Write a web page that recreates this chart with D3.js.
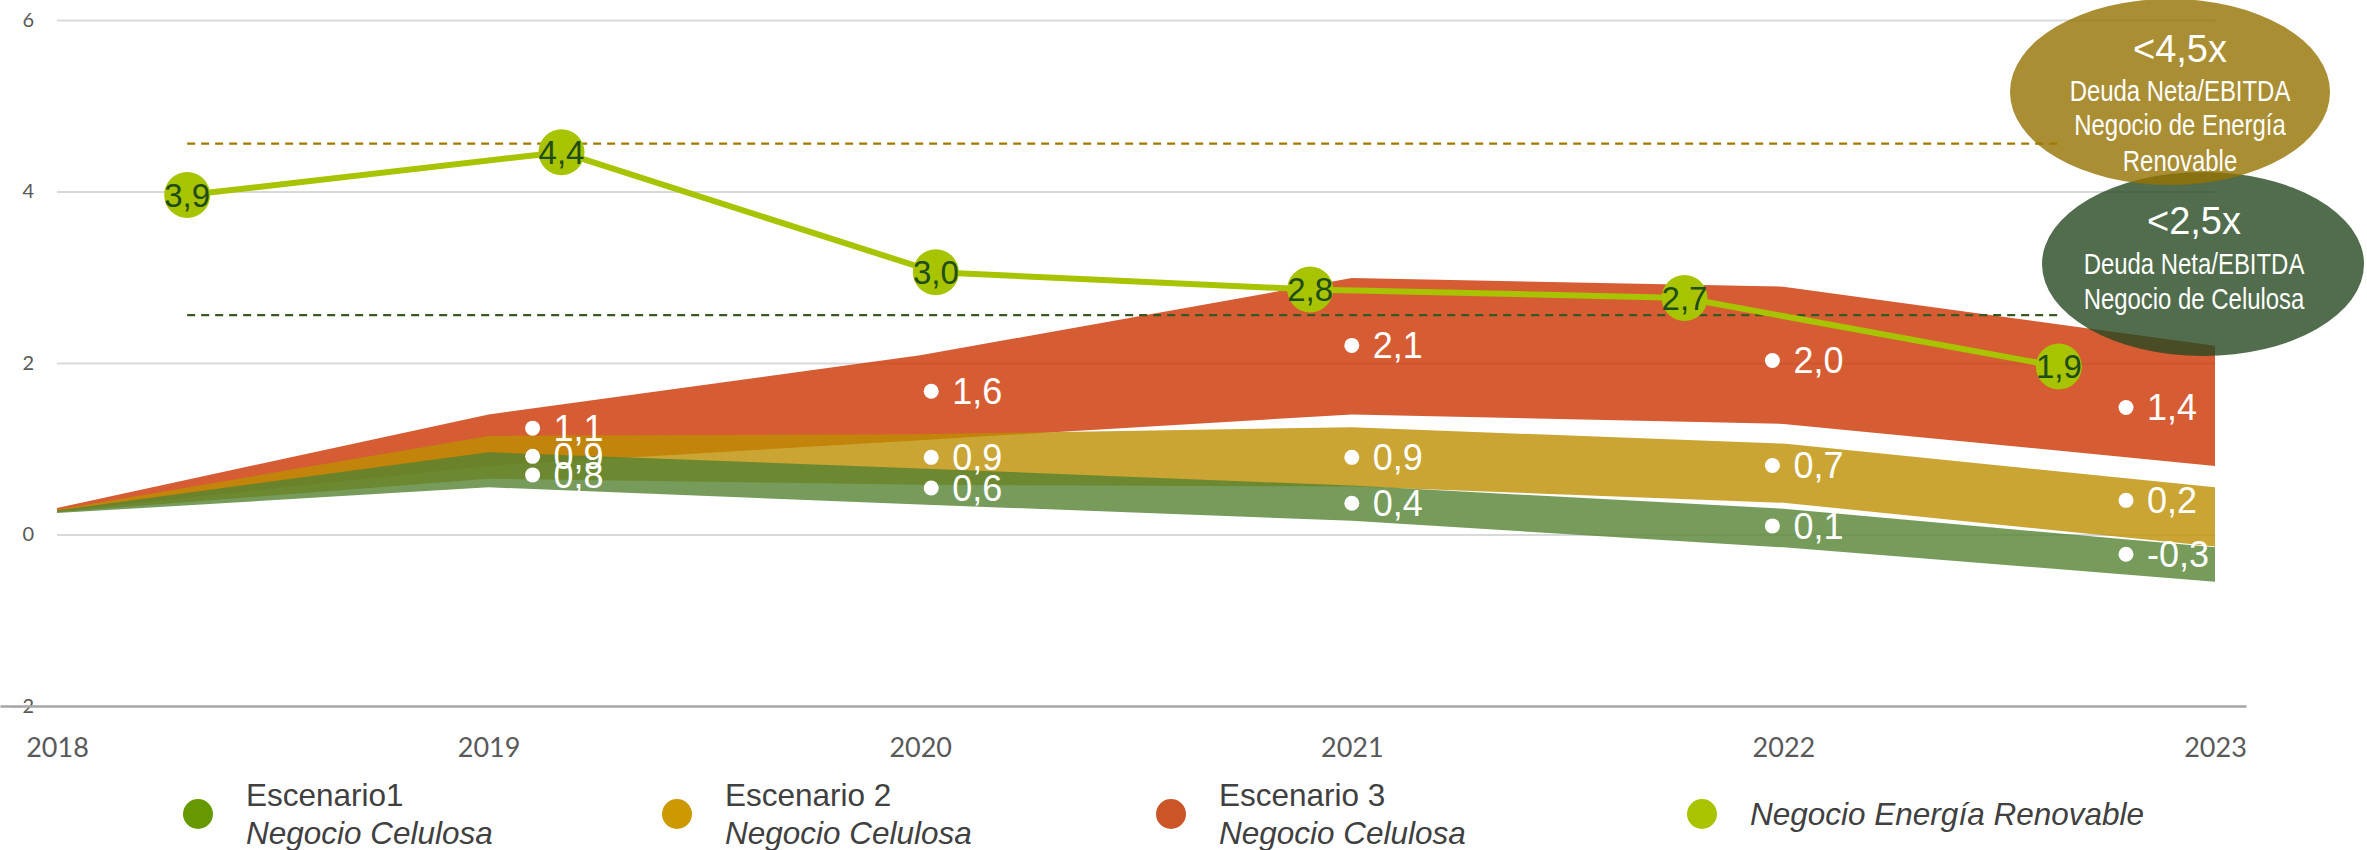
<!DOCTYPE html>
<html><head><meta charset="utf-8">
<script src="https://cdn.jsdelivr.net/npm/d3@7"></script>
<style>
html,body{margin:0;padding:0;background:#fff;}
svg{display:block;}
</style></head>
<body>
<svg id="chart" width="2367" height="850"></svg>
<script>
// ---------------- data ----------------
const years = [2018, 2019, 2020, 2021, 2022, 2023];
const yTicks = [-2, 0, 2, 4, 6];

// scenario bands (lower / upper bound), Negocio Celulosa
const esc1Low  = [0.25, 0.55, 0.35, 0.16, -0.15, -0.55];
const esc1High = [0.28, 0.96, 0.77, 0.57, 0.30, -0.15];
const esc2Low  = [0.26, 0.65, 0.58, 0.56, 0.37, -0.14];
const esc2High = [0.29, 1.15, 1.17, 1.25, 1.06, 0.55];
const esc3Low  = [0.27, 0.80, 1.10, 1.40, 1.29, 0.80];
const esc3High = [0.31, 1.40, 2.09, 2.99, 2.89, 2.20];

// printed scenario values
const labelYears = [2019, 2020, 2021, 2022, 2023];
const esc1Labels = [0.8, 0.6, 0.4, 0.1, -0.3];
const esc2Labels = [0.9, 0.9, 0.9, 0.7, 0.2];
const esc3Labels = [1.1, 1.6, 2.1, 2.0, 1.4];

// Negocio Energía Renovable
const renovCategories = ["2018", "2019", "2020", "2021", "2022", "2023"];
const renovValues = [3.9, 4.4, 3.0, 2.8, 2.7, 1.9];
const thresholds = [4.5, 2.5];

const goldBubble = ["<4,5x", "Deuda Neta/EBITDA", "Negocio de Energía", "Renovable"];
const greenBubble = ["<2,5x", "Deuda Neta/EBITDA", "Negocio de Celulosa"];

const legendTitles = ["Escenario1", "Escenario 2", "Escenario 3", ""];
const legendSubs = ["Negocio Celulosa", "Negocio Celulosa", "Negocio Celulosa", "Negocio Energía Renovable"];

// ---------------- layout / style ----------------
const svg = d3.select("#chart");
const W = 2367, H = 850;
svg.append("rect").attr("width", W).attr("height", H).attr("fill", "#fff");

const x = d3.scaleLinear().domain([2018, 2023]).range([57, 2215]);
const y = d3.scaleLinear().domain([-2, 6]).range([706, 20]);
const xLine = d3.scalePoint().domain(renovCategories).range([0, 2246]).padding(0.5);
const yLine = d3.scaleLinear().domain([-2, 6]).range([701, 15]);

const fmt = v => v.toFixed(1).replace(".", ",");

// gridlines + y labels
const gy = svg.append("g").attr("transform", "translate(57,0)")
  .call(d3.axisLeft(y).tickValues(yTicks).tickSize(-(2215 - 57)).tickPadding(23).tickFormat(d3.format("d")));
gy.select(".domain").remove();
gy.selectAll(".tick line").attr("stroke", "#D9D9D9").attr("stroke-width", 2)
  .filter(d => d === -2).attr("stroke", "none");
gy.selectAll(".tick text").attr("fill", "#595959").attr("font-family", "Lato, 'Open Sans', sans-serif")
  .attr("font-size", 20);

// category axis line (line chart)
const gxl = svg.append("g").attr("transform", "translate(0,706)")
  .call(d3.axisBottom(xLine).tickSize(0).tickSizeOuter(0).tickFormat(""));
gxl.select(".domain").attr("stroke", "#A6A6A6").attr("stroke-width", 2.5);

// year labels
const gx = svg.append("g").attr("transform", "translate(0,706)")
  .call(d3.axisBottom(x).tickValues(years).tickSize(0).tickPadding(32).tickFormat(d3.format("d")));
gx.select(".domain").remove();
gx.selectAll(".tick text").attr("fill", "#595959").attr("font-family", "Lato, 'Open Sans', sans-serif")
  .attr("font-size", 27);

// bands
const bands = [
  {low: esc3Low, high: esc3High, fill: "rgb(204,51,0)"},
  {low: esc2Low, high: esc2High, fill: "rgb(189,143,0)"},
  {low: esc1Low, high: esc1High, fill: "rgb(84,130,50)"}
];
const area = d3.area()
  .x(d => x(d.year)).y0(d => y(d.lo)).y1(d => y(d.hi));
bands.forEach(b => {
  const pts = years.map((yr, i) => ({year: yr, lo: b.low[i], hi: b.high[i]}));
  svg.append("path").datum(pts).attr("d", area).attr("fill", b.fill).attr("fill-opacity", 0.8);
});

// bubbles
svg.append("ellipse").attr("cx", 2203).attr("cy", 264).attr("rx", 161).attr("ry", 92)
  .attr("fill", "rgb(38,72,32)").attr("fill-opacity", 0.8);
svg.append("ellipse").attr("cx", 2170).attr("cy", 92).attr("rx", 160).attr("ry", 93)
  .attr("fill", "rgb(149,114,1)").attr("fill-opacity", 0.8);

// threshold dashed lines
const dashColors = ["#A07A00", "#385723"];
svg.selectAll("line.thr").data(thresholds).join("line").attr("class", "thr")
  .attr("x1", xLine(renovCategories[0])).attr("x2", xLine(renovCategories[renovCategories.length - 1]))
  .attr("y1", d => yLine(d)).attr("y2", d => yLine(d))
  .attr("stroke", (d, i) => dashColors[i]).attr("stroke-width", 2.2).attr("stroke-dasharray", "8,6");

// scenario value labels
const labelDx = [44, 11, 0, -11, -89];
const labelSets = [
  {vals: esc3Labels, dy: [-12, -6, -9, -2.5, -7]},
  {vals: esc2Labels, dy: [-1, 0, 0, -9, -17]},
  {vals: esc1Labels, dy: [9, 5, 3, 0, -6]}
];
labelSets.forEach(s => {
  const g = svg.append("g");
  const items = labelYears.map((yr, i) => ({cx: x(yr) + labelDx[i], cy: y(s.vals[i]) + s.dy[i], v: s.vals[i]}));
  g.selectAll("circle").data(items).join("circle")
    .attr("cx", d => d.cx).attr("cy", d => d.cy).attr("r", 7.5).attr("fill", "#fff");
  g.selectAll("text").data(items).join("text")
    .attr("x", d => d.cx + 21).attr("y", d => d.cy).attr("dy", "0.36em")
    .attr("fill", "#fff").attr("font-family", "'Liberation Sans', Arial, sans-serif").attr("font-size", 36)
    .text(d => fmt(d.v));
});

// renewable line
const renov = renovCategories.map((c, i) => ({c, v: renovValues[i]}));
svg.append("path").datum(renov)
  .attr("d", d3.line().x(d => xLine(d.c)).y(d => yLine(d.v)))
  .attr("fill", "none").attr("stroke", "#A8C300").attr("stroke-width", 6).attr("stroke-linejoin", "round");
svg.selectAll("circle.mk").data(renov).join("circle").attr("class", "mk")
  .attr("cx", d => xLine(d.c)).attr("cy", d => yLine(d.v)).attr("r", 23).attr("fill", "#A8C300");
svg.selectAll("text.mk").data(renov).join("text").attr("class", "mk")
  .attr("x", d => xLine(d.c)).attr("y", d => yLine(d.v)).attr("dy", "0.36em")
  .attr("text-anchor", "middle").attr("fill", "#1E4D1A")
  .attr("font-family", "'Liberation Sans', Arial, sans-serif").attr("font-size", 33)
  .text(d => fmt(d.v));

// bubble texts
function bubbleText(lines, cx, baselines) {
  lines.forEach((t, i) => {
    const g = svg.append("g").attr("transform", `translate(${cx},${baselines[i]}) scale(${i === 0 ? 1 : 0.825},1)`);
    g.append("text").attr("text-anchor", "middle").attr("fill", "#fff")
      .attr("font-family", "'Liberation Sans', Arial, sans-serif")
      .attr("font-size", i === 0 ? 38 : 29).text(t);
  });
}
bubbleText(goldBubble, 2180, [62, 101, 135, 170.5]);
bubbleText(greenBubble, 2194, [233.5, 274, 308.5]);

// legend
const legendColors = ["#669900", "#CC9900", "#CC5528", "#AAC300"];
const legendX = [198, 677, 1171, 1702];
legendTitles.forEach((t, i) => {
  const g = svg.append("g");
  g.append("circle").attr("cx", legendX[i]).attr("cy", 814).attr("r", 15).attr("fill", legendColors[i]);
  const tx = legendX[i] + 48;
  if (t) {
    g.append("text").attr("x", tx).attr("y", 806).attr("fill", "#404040")
      .attr("font-family", "'Liberation Sans', Arial, sans-serif").attr("font-size", 31.5).text(t);
    g.append("text").attr("x", tx).attr("y", 844).attr("fill", "#404040").attr("font-style", "italic")
      .attr("font-family", "'Liberation Sans', Arial, sans-serif").attr("font-size", 31.5).text(legendSubs[i]);
  } else {
    g.append("text").attr("x", tx).attr("y", 825).attr("fill", "#404040").attr("font-style", "italic")
      .attr("font-family", "'Liberation Sans', Arial, sans-serif").attr("font-size", 31.5).text(legendSubs[i]);
  }
});
</script>
</body></html>
